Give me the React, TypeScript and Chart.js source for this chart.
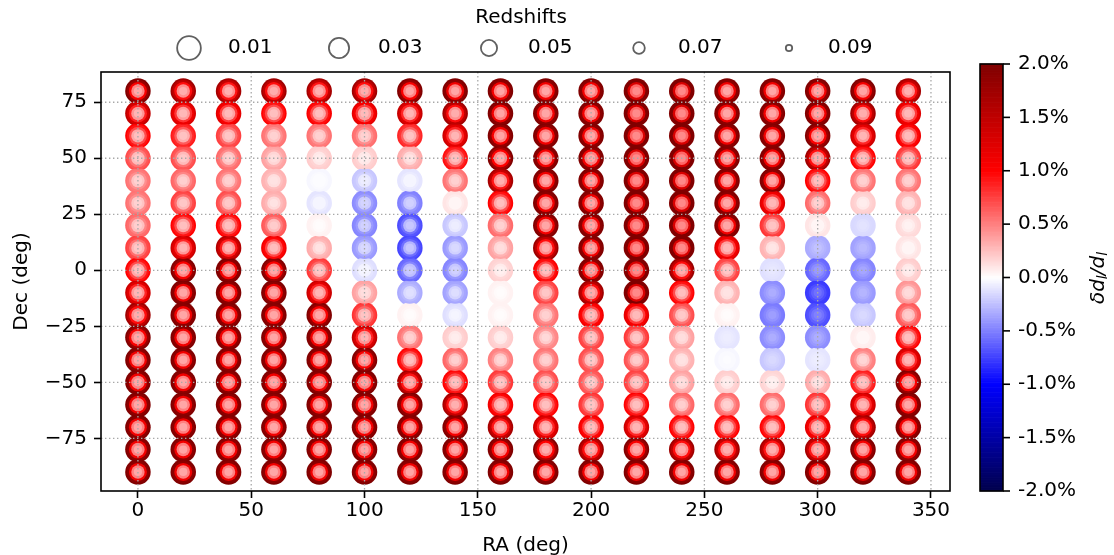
import React, { useEffect, useRef } from "react";
import { Chart, registerables } from "chart.js";

Chart.register(...registerables);

// ---------------- data ----------------
const RA = [0, 20, 40, 60, 80, 100, 120, 140, 160, 180, 200, 220, 240, 260, 280, 300, 320, 340];
const DEC = [80, 70, 60, 50, 40, 30, 20, 10, 0, -10, -20, -30, -40, -50, -60, -70, -80, -90];
const REDSHIFT_LABELS = ["0.01", "0.03", "0.05", "0.07", "0.09"];
const X_TICKS = [0, 50, 100, 150, 200, 250, 300, 350];
const Y_TICKS = [-75, -50, -25, 0, 25, 50, 75];
const CBAR_TICKS = [-2, -1.5, -1, -0.5, 0, 0.5, 1, 1.5, 2];

// delta d_L / d_L in percent; rows follow DEC, columns follow RA
const DL_Z001 = [
  [2.2, 1.75, 1.7, 1.75, 1.7, 1.75, 2.2, 2.4, 2.4, 2.4, 2.4, 2.6, 2.6, 2.4, 2.4, 2.4, 2.3, 1.7],
  [1.5, 1.3, 1.2, 1.0, 1.05, 1.2, 1.45, 1.75, 2.4, 2.4, 2.4, 2.6, 2.6, 2.4, 2.4, 2.4, 1.75, 1.25],
  [1.0, 0.9, 0.75, 0.55, 0.55, 0.57, 0.85, 1.4, 2.3, 2.4, 2.4, 2.6, 2.6, 2.4, 2.4, 2.2, 1.4, 1.1],
  [0.7, 0.7, 0.58, 0.37, 0.2, 0.2, 0.33, 0.95, 2.1, 2.4, 2.4, 2.6, 2.6, 2.4, 2.4, 1.75, 1.0, 0.8],
  [0.55, 0.6, 0.55, 0.3, -0.03, -0.22, -0.1, 0.55, 1.7, 2.4, 2.4, 2.6, 2.6, 2.4, 2.4, 1.0, 0.55, 0.55],
  [0.55, 0.75, 0.7, 0.33, -0.1, -0.45, -0.5, 0.1, 1.0, 2.4, 2.4, 2.6, 2.6, 2.4, 1.25, 0.58, 0.2, 0.3],
  [0.6, 1.0, 1.0, 0.65, 0.05, -0.48, -0.7, -0.22, 0.58, 2.3, 2.4, 2.6, 2.6, 2.4, 0.8, 0.1, -0.15, 0.15],
  [0.75, 1.4, 1.6, 1.1, 0.33, -0.4, -0.73, -0.4, 0.37, 1.8, 2.4, 2.6, 2.6, 1.25, 0.3, -0.33, -0.37, 0.1],
  [1.0, 2.2, 2.4, 2.2, 0.78, -0.13, -0.6, -0.48, 0.18, 1.05, 2.4, 2.6, 1.8, 0.75, -0.12, -0.6, -0.48, 0.2],
  [1.4, 2.4, 2.4, 2.4, 1.4, 0.37, -0.33, -0.37, 0.05, 0.75, 1.75, 2.6, 1.0, 0.3, -0.45, -0.77, -0.4, 0.42],
  [1.75, 2.4, 2.4, 2.4, 2.2, 0.8, 0.05, -0.13, 0.05, 0.55, 1.1, 1.2, 0.7, 0.05, -0.52, -0.7, -0.22, 0.65],
  [2.2, 2.4, 2.4, 2.4, 2.4, 1.5, 0.55, 0.2, 0.2, 0.47, 0.75, 0.78, 0.37, -0.1, -0.45, -0.45, 0.07, 1.0],
  [2.4, 2.4, 2.4, 2.4, 2.4, 2.2, 1.0, 0.6, 0.5, 0.55, 0.7, 0.68, 0.3, -0.03, -0.22, -0.1, 0.5, 1.4],
  [2.4, 2.4, 2.4, 2.4, 2.4, 2.4, 1.7, 1.0, 0.78, 0.7, 0.68, 0.75, 0.37, 0.2, 0.17, 0.33, 0.9, 2.2],
  [2.4, 2.4, 2.4, 2.4, 2.4, 2.4, 2.3, 1.7, 1.1, 1.0, 0.8, 1.0, 0.6, 0.58, 0.58, 0.8, 1.4, 2.4],
  [2.4, 2.4, 2.4, 2.4, 2.4, 2.4, 2.4, 2.3, 1.7, 1.4, 1.1, 1.4, 1.0, 1.0, 1.0, 1.2, 1.75, 2.4],
  [2.4, 2.4, 2.4, 2.4, 2.4, 2.4, 2.4, 2.4, 2.3, 2.0, 1.75, 2.2, 1.75, 1.75, 1.7, 1.7, 2.3, 2.4],
  [2.4, 2.4, 2.4, 2.4, 2.4, 2.4, 2.4, 2.4, 2.4, 2.4, 2.4, 2.4, 2.4, 2.4, 2.4, 2.4, 2.4, 2.4],
];

const DL_Z003 = [
  [1.8, 1.5, 1.45, 1.5, 1.45, 1.5, 1.8, 1.9, 1.9, 1.9, 1.9, 2.1, 2.1, 1.9, 1.9, 1.9, 1.85, 1.45],
  [1.3, 1.14, 1.06, 0.92, 0.95, 1.06, 1.26, 1.5, 1.9, 1.9, 1.9, 2.1, 2.1, 1.9, 1.9, 1.9, 1.5, 1.1],
  [0.92, 0.84, 0.71, 0.52, 0.52, 0.54, 0.8, 1.22, 1.85, 1.9, 1.9, 2.1, 2.1, 1.9, 1.9, 1.8, 1.22, 0.98],
  [0.66, 0.66, 0.55, 0.35, 0.19, 0.19, 0.31, 0.88, 1.7, 1.9, 1.9, 2.1, 2.1, 1.9, 1.9, 1.5, 0.92, 0.75],
  [0.52, 0.57, 0.52, 0.29, -0.03, -0.21, -0.1, 0.52, 1.45, 1.9, 1.9, 2.1, 2.1, 1.9, 1.9, 0.92, 0.52, 0.52],
  [0.52, 0.71, 0.66, 0.31, -0.1, -0.43, -0.48, 0.1, 0.92, 1.9, 1.9, 2.1, 2.1, 1.9, 1.1, 0.55, 0.19, 0.29],
  [0.57, 0.92, 0.92, 0.62, 0.05, -0.46, -0.66, -0.21, 0.55, 1.85, 1.9, 2.1, 2.1, 1.9, 0.75, 0.1, -0.15, 0.14],
  [0.71, 1.22, 1.38, 0.98, 0.31, -0.38, -0.68, -0.38, 0.35, 1.5, 1.9, 2.1, 2.1, 1.1, 0.29, -0.32, -0.36, 0.1],
  [0.92, 1.8, 1.9, 1.8, 0.73, -0.12, -0.57, -0.46, 0.17, 0.95, 1.9, 2.1, 1.5, 0.71, -0.12, -0.58, -0.47, 0.19],
  [1.22, 1.9, 1.9, 1.9, 1.22, 0.35, -0.31, -0.35, 0.05, 0.71, 1.5, 2.1, 0.92, 0.29, -0.44, -0.76, -0.39, 0.4],
  [1.5, 1.9, 1.9, 1.9, 1.8, 0.75, 0.05, -0.12, 0.05, 0.52, 0.98, 1.06, 0.66, 0.05, -0.51, -0.68, -0.21, 0.62],
  [1.8, 1.9, 1.9, 1.9, 1.9, 1.3, 0.52, 0.19, 0.19, 0.45, 0.71, 0.73, 0.35, -0.1, -0.44, -0.44, 0.07, 0.92],
  [1.9, 1.9, 1.9, 1.9, 1.9, 1.8, 0.92, 0.57, 0.48, 0.52, 0.66, 0.64, 0.29, -0.03, -0.21, -0.1, 0.48, 1.22],
  [1.9, 1.9, 1.9, 1.9, 1.9, 1.9, 1.45, 0.92, 0.73, 0.66, 0.64, 0.71, 0.35, 0.19, 0.16, 0.31, 0.84, 1.8],
  [1.9, 1.9, 1.9, 1.9, 1.9, 1.9, 1.85, 1.45, 0.98, 0.92, 0.75, 0.92, 0.57, 0.55, 0.55, 0.75, 1.22, 1.9],
  [1.9, 1.9, 1.9, 1.9, 1.9, 1.9, 1.9, 1.85, 1.45, 1.22, 0.98, 1.22, 0.92, 0.92, 0.92, 1.06, 1.5, 1.9],
  [1.9, 1.9, 1.9, 1.9, 1.9, 1.9, 1.9, 1.9, 1.85, 1.65, 1.5, 1.8, 1.5, 1.5, 1.45, 1.45, 1.85, 1.9],
  [1.9, 1.9, 1.9, 1.9, 1.9, 1.9, 1.9, 1.9, 1.9, 1.9, 1.9, 1.9, 1.9, 1.9, 1.9, 1.9, 1.9, 1.9],
];

const DL_Z005 = [
  [1.05, 0.95, 0.92, 0.95, 0.92, 0.95, 1.05, 1.1, 1.1, 1.1, 1.1, 1.3, 1.3, 1.1, 1.1, 1.1, 1.08, 0.92],
  [0.87, 0.8, 0.76, 0.7, 0.71, 0.76, 0.86, 0.95, 1.1, 1.1, 1.1, 1.3, 1.3, 1.1, 1.1, 1.1, 0.95, 0.78],
  [0.7, 0.64, 0.57, 0.44, 0.44, 0.45, 0.62, 0.85, 1.08, 1.1, 1.1, 1.3, 1.3, 1.1, 1.1, 1.05, 0.85, 0.72],
  [0.54, 0.54, 0.46, 0.3, 0.17, 0.17, 0.27, 0.67, 1.0, 1.1, 1.1, 1.3, 1.3, 1.1, 1.1, 0.95, 0.7, 0.6],
  [0.44, 0.48, 0.44, 0.25, -0.02, -0.18, -0.08, 0.44, 0.92, 1.1, 1.1, 1.3, 1.3, 1.1, 1.1, 0.7, 0.44, 0.44],
  [0.44, 0.57, 0.54, 0.27, -0.08, -0.37, -0.41, 0.08, 0.7, 1.1, 1.1, 1.3, 1.3, 1.1, 0.78, 0.46, 0.17, 0.25],
  [0.48, 0.7, 0.7, 0.51, 0.04, -0.4, -0.55, -0.18, 0.46, 1.08, 1.1, 1.3, 1.3, 1.1, 0.6, 0.08, -0.14, 0.12],
  [0.57, 0.85, 0.9, 0.72, 0.27, -0.33, -0.56, -0.33, 0.3, 0.95, 1.1, 1.3, 1.3, 0.78, 0.25, -0.3, -0.33, 0.08],
  [0.7, 1.05, 1.1, 1.05, 0.59, -0.1, -0.48, -0.4, 0.15, 0.71, 1.1, 1.3, 0.95, 0.57, -0.11, -0.52, -0.43, 0.17],
  [0.85, 1.1, 1.1, 1.1, 0.85, 0.3, -0.27, -0.3, 0.04, 0.57, 0.95, 1.3, 0.7, 0.25, -0.4, -0.7, -0.36, 0.34],
  [0.95, 1.1, 1.1, 1.1, 1.05, 0.6, 0.04, -0.1, 0.04, 0.44, 0.72, 0.76, 0.54, 0.04, -0.47, -0.62, -0.19, 0.51],
  [1.05, 1.1, 1.1, 1.1, 1.1, 0.87, 0.44, 0.17, 0.17, 0.38, 0.57, 0.59, 0.3, -0.09, -0.4, -0.4, 0.06, 0.7],
  [1.1, 1.1, 1.1, 1.1, 1.1, 1.05, 0.7, 0.48, 0.4, 0.44, 0.54, 0.53, 0.25, -0.02, -0.19, -0.09, 0.4, 0.85],
  [1.1, 1.1, 1.1, 1.1, 1.1, 1.1, 0.92, 0.7, 0.59, 0.54, 0.53, 0.57, 0.3, 0.17, 0.14, 0.27, 0.64, 1.05],
  [1.1, 1.1, 1.1, 1.1, 1.1, 1.1, 1.08, 0.92, 0.72, 0.7, 0.6, 0.7, 0.48, 0.46, 0.46, 0.6, 0.85, 1.1],
  [1.1, 1.1, 1.1, 1.1, 1.1, 1.1, 1.1, 1.08, 0.92, 0.85, 0.72, 0.85, 0.7, 0.7, 0.7, 0.76, 0.95, 1.1],
  [1.1, 1.1, 1.1, 1.1, 1.1, 1.1, 1.1, 1.1, 1.08, 1.0, 0.95, 1.05, 0.95, 0.95, 0.92, 0.92, 1.08, 1.1],
  [1.1, 1.1, 1.1, 1.1, 1.1, 1.1, 1.1, 1.1, 1.1, 1.1, 1.1, 1.1, 1.1, 1.1, 1.1, 1.1, 1.1, 1.1],
];

const DL_Z007 = [
  [0.48, 0.44, 0.43, 0.44, 0.43, 0.44, 0.48, 0.5, 0.5, 0.5, 0.5, 0.6, 0.6, 0.5, 0.5, 0.5, 0.5, 0.43],
  [0.41, 0.38, 0.36, 0.34, 0.34, 0.36, 0.4, 0.44, 0.5, 0.5, 0.5, 0.6, 0.6, 0.5, 0.5, 0.5, 0.44, 0.37],
  [0.34, 0.31, 0.29, 0.23, 0.23, 0.23, 0.31, 0.4, 0.5, 0.5, 0.5, 0.6, 0.6, 0.5, 0.5, 0.48, 0.4, 0.35],
  [0.27, 0.27, 0.24, 0.16, 0.09, 0.09, 0.15, 0.33, 0.47, 0.5, 0.5, 0.6, 0.6, 0.5, 0.5, 0.44, 0.34, 0.3],
  [0.23, 0.25, 0.23, 0.13, -0.01, -0.09, -0.04, 0.23, 0.43, 0.5, 0.5, 0.6, 0.6, 0.5, 0.5, 0.34, 0.23, 0.23],
  [0.23, 0.29, 0.27, 0.15, -0.04, -0.2, -0.22, 0.04, 0.34, 0.5, 0.5, 0.6, 0.6, 0.5, 0.37, 0.24, 0.09, 0.13],
  [0.25, 0.34, 0.34, 0.26, 0.02, -0.22, -0.28, -0.09, 0.24, 0.5, 0.5, 0.6, 0.6, 0.5, 0.3, 0.04, -0.12, 0.07],
  [0.29, 0.4, 0.42, 0.35, 0.15, -0.18, -0.29, -0.18, 0.16, 0.44, 0.5, 0.6, 0.6, 0.37, 0.13, -0.27, -0.3, 0.04],
  [0.34, 0.48, 0.5, 0.48, 0.29, -0.05, -0.25, -0.22, 0.08, 0.34, 0.5, 0.6, 0.44, 0.29, -0.1, -0.45, -0.39, 0.09],
  [0.4, 0.5, 0.5, 0.5, 0.4, 0.16, -0.15, -0.17, 0.02, 0.29, 0.44, 0.6, 0.34, 0.13, -0.36, -0.62, -0.32, 0.18],
  [0.44, 0.5, 0.5, 0.5, 0.48, 0.3, 0.02, -0.05, 0.02, 0.23, 0.35, 0.36, 0.27, 0.02, -0.42, -0.55, -0.17, 0.26],
  [0.48, 0.5, 0.5, 0.5, 0.5, 0.41, 0.23, 0.09, 0.09, 0.2, 0.29, 0.29, 0.16, -0.08, -0.36, -0.36, 0.03, 0.34],
  [0.5, 0.5, 0.5, 0.5, 0.5, 0.48, 0.34, 0.25, 0.21, 0.23, 0.27, 0.27, 0.13, -0.02, -0.17, -0.08, 0.21, 0.4],
  [0.5, 0.5, 0.5, 0.5, 0.5, 0.5, 0.43, 0.34, 0.29, 0.27, 0.27, 0.29, 0.16, 0.09, 0.07, 0.15, 0.31, 0.48],
  [0.5, 0.5, 0.5, 0.5, 0.5, 0.5, 0.5, 0.43, 0.35, 0.34, 0.3, 0.34, 0.25, 0.24, 0.24, 0.3, 0.4, 0.5],
  [0.5, 0.5, 0.5, 0.5, 0.5, 0.5, 0.5, 0.5, 0.43, 0.4, 0.35, 0.4, 0.34, 0.34, 0.34, 0.36, 0.44, 0.5],
  [0.5, 0.5, 0.5, 0.5, 0.5, 0.5, 0.5, 0.5, 0.5, 0.46, 0.44, 0.48, 0.44, 0.44, 0.43, 0.43, 0.5, 0.5],
  [0.5, 0.5, 0.5, 0.5, 0.5, 0.5, 0.5, 0.5, 0.5, 0.5, 0.5, 0.5, 0.5, 0.5, 0.5, 0.5, 0.5, 0.5],
];

const DL_Z009 = [
  [0.34, 0.32, 0.31, 0.32, 0.31, 0.32, 0.34, 0.35, 0.35, 0.35, 0.35, 0.46, 0.46, 0.35, 0.35, 0.35, 0.35, 0.31],
  [0.29, 0.28, 0.27, 0.25, 0.25, 0.27, 0.29, 0.32, 0.35, 0.35, 0.35, 0.46, 0.46, 0.35, 0.35, 0.35, 0.32, 0.28],
  [0.25, 0.24, 0.22, 0.18, 0.18, 0.18, 0.23, 0.29, 0.35, 0.35, 0.35, 0.46, 0.46, 0.35, 0.35, 0.34, 0.29, 0.26],
  [0.21, 0.21, 0.18, 0.13, 0.07, 0.07, 0.11, 0.25, 0.33, 0.35, 0.35, 0.46, 0.46, 0.35, 0.35, 0.32, 0.25, 0.23],
  [0.18, 0.19, 0.18, 0.11, -0.01, -0.07, -0.04, 0.18, 0.31, 0.35, 0.35, 0.46, 0.46, 0.35, 0.35, 0.25, 0.18, 0.18],
  [0.18, 0.22, 0.21, 0.11, -0.04, -0.17, -0.18, 0.04, 0.25, 0.35, 0.35, 0.46, 0.46, 0.35, 0.28, 0.18, 0.07, 0.11],
  [0.19, 0.25, 0.25, 0.2, 0.01, -0.18, -0.22, -0.07, 0.18, 0.35, 0.35, 0.46, 0.46, 0.35, 0.23, 0.04, -0.11, 0.05],
  [0.22, 0.29, 0.3, 0.26, 0.11, -0.15, -0.22, -0.15, 0.13, 0.32, 0.35, 0.46, 0.46, 0.28, 0.1, -0.24, -0.27, 0.04],
  [0.25, 0.34, 0.35, 0.34, 0.22, -0.04, -0.21, -0.18, 0.06, 0.25, 0.35, 0.46, 0.32, 0.22, -0.09, -0.4, -0.35, 0.07],
  [0.29, 0.35, 0.35, 0.35, 0.29, 0.13, -0.12, -0.13, 0.01, 0.22, 0.32, 0.46, 0.25, 0.11, -0.32, -0.56, -0.29, 0.14],
  [0.32, 0.35, 0.35, 0.35, 0.34, 0.23, 0.01, -0.04, 0.01, 0.18, 0.26, 0.27, 0.21, 0.01, -0.38, -0.5, -0.15, 0.2],
  [0.34, 0.35, 0.35, 0.35, 0.35, 0.29, 0.18, 0.07, 0.07, 0.15, 0.22, 0.22, 0.13, -0.07, -0.32, -0.32, 0.03, 0.25],
  [0.35, 0.35, 0.35, 0.35, 0.35, 0.34, 0.25, 0.19, 0.16, 0.18, 0.21, 0.2, 0.11, -0.01, -0.15, -0.07, 0.16, 0.29],
  [0.35, 0.35, 0.35, 0.35, 0.35, 0.35, 0.31, 0.25, 0.22, 0.21, 0.2, 0.22, 0.13, 0.07, 0.06, 0.11, 0.24, 0.34],
  [0.35, 0.35, 0.35, 0.35, 0.35, 0.35, 0.35, 0.31, 0.26, 0.25, 0.23, 0.25, 0.19, 0.18, 0.18, 0.23, 0.29, 0.35],
  [0.35, 0.35, 0.35, 0.35, 0.35, 0.35, 0.35, 0.35, 0.31, 0.29, 0.26, 0.29, 0.25, 0.25, 0.25, 0.27, 0.32, 0.35],
  [0.35, 0.35, 0.35, 0.35, 0.35, 0.35, 0.35, 0.35, 0.35, 0.32, 0.32, 0.34, 0.32, 0.32, 0.31, 0.31, 0.35, 0.35],
  [0.35, 0.35, 0.35, 0.35, 0.35, 0.35, 0.35, 0.35, 0.35, 0.35, 0.35, 0.35, 0.35, 0.35, 0.35, 0.35, 0.35, 0.35],
];

const GRIDS = [DL_Z001, DL_Z003, DL_Z005, DL_Z007, DL_Z009];

// ---------------- style ----------------
const FONT = "'DejaVu Sans', 'Liberation Sans', sans-serif";
const FS = 20;
const W = 1114;
const H = 555;
const MARKER_RADII = [12.75, 11, 9, 6.7, 4.1];
const VMIN = -2;
const VMAX = 2;

const SEISMIC = [
  [0, 0, 0.3],
  [0, 0, 1],
  [1, 1, 1],
  [1, 0, 0],
  [0.5, 0, 0],
];

function seismic(v: number): string {
  let t = (v - VMIN) / (VMAX - VMIN);
  t = Math.max(0, Math.min(1, t));
  const p = t * 4;
  const i = Math.min(3, Math.floor(p));
  const f = p - i;
  const a = SEISMIC[i];
  const b = SEISMIC[i + 1];
  const c = a.map((x, k) => Math.round((x + (b[k] - x) * f) * 255));
  return `rgb(${c[0]},${c[1]},${c[2]})`;
}

const fmtMinus = (v: number) => (v < 0 ? "\u2212" + Math.abs(v) : String(v));

const mplPlugin = {
  id: "mplDecor",
  afterDatasetsDraw(chart: any) {
    const { ctx, chartArea: a, scales } = chart;
    const x = scales.x;
    const y = scales.y;
    ctx.save();
    ctx.beginPath();
    ctx.rect(a.left, a.top, a.right - a.left, a.bottom - a.top);
    ctx.clip();
    ctx.strokeStyle = "#a8a8a8";
    ctx.lineWidth = 1.3;
    ctx.setLineDash([1.4, 2.6]);
    X_TICKS.forEach((v) => {
      const px = x.getPixelForValue(v);
      ctx.beginPath();
      ctx.moveTo(px, a.top);
      ctx.lineTo(px, a.bottom);
      ctx.stroke();
    });
    Y_TICKS.forEach((v) => {
      const py = y.getPixelForValue(v);
      ctx.beginPath();
      ctx.moveTo(a.left, py);
      ctx.lineTo(a.right, py);
      ctx.stroke();
    });
    ctx.restore();
    ctx.save();
    ctx.strokeStyle = "#000";
    ctx.lineWidth = 1.6;
    ctx.strokeRect(a.left, a.top, a.right - a.left, a.bottom - a.top);
    ctx.restore();
  },
  afterDraw(chart: any) {
    const { ctx } = chart;
    // ---- legend ----
    ctx.save();
    ctx.fillStyle = "#000";
    ctx.font = `${FS}px ${FONT}`;
    ctx.textAlign = "center";
    ctx.textBaseline = "middle";
    ctx.fillText("Redshifts", 521, 18);
    REDSHIFT_LABELS.forEach((lab, k) => {
      const cx = 189 + 150 * k;
      const cy = 48;
      ctx.beginPath();
      ctx.arc(cx, cy, MARKER_RADII[k] - 0.9, 0, Math.PI * 2);
      ctx.strokeStyle = "#606060";
      ctx.lineWidth = 1.8;
      ctx.stroke();
      ctx.fillStyle = "#000";
      ctx.textAlign = "left";
      ctx.fillText(lab, 228 + 150 * k, cy);
    });
    ctx.restore();

    // ---- colorbar ----
    const x0 = 980;
    const x1 = 1003;
    const y0 = 64;
    const y1 = 491;
    const n = 256;
    ctx.save();
    for (let i = 0; i < n; i++) {
      const v = VMIN + ((i + 0.5) / n) * (VMAX - VMIN);
      const ya = y1 - ((i + 1) / n) * (y1 - y0);
      const yb = y1 - (i / n) * (y1 - y0);
      ctx.fillStyle = seismic(v);
      ctx.fillRect(x0, ya - 0.3, x1 - x0, yb - ya + 0.6);
    }
    ctx.strokeStyle = "#000";
    ctx.lineWidth = 1.6;
    ctx.strokeRect(x0, y0, x1 - x0, y1 - y0);
    ctx.font = `${FS}px ${FONT}`;
    ctx.fillStyle = "#000";
    ctx.textAlign = "left";
    ctx.textBaseline = "middle";
    CBAR_TICKS.forEach((v) => {
      const py = y1 - ((v - VMIN) / (VMAX - VMIN)) * (y1 - y0);
      ctx.beginPath();
      ctx.moveTo(x1, py);
      ctx.lineTo(x1 + 7, py);
      ctx.lineWidth = 1.6;
      ctx.stroke();
      ctx.fillText(v.toFixed(1) + "%", x1 + 15, py);
    });
    // colorbar label  δd_l/d_l
    ctx.translate(1099, 278);
    ctx.rotate(-Math.PI / 2);
    const big = `italic ${FS}px ${FONT}`;
    const small = `italic ${Math.round(FS * 0.7)}px ${FONT}`;
    const parts: [string, string, number][] = [
      ["\u03b4d", big, 0],
      ["l", small, 4],
      ["/d", big, 0],
      ["l", small, 4],
    ];
    let total = 0;
    parts.forEach(([t, f]) => {
      ctx.font = f;
      total += ctx.measureText(t).width;
    });
    let cx = -total / 2;
    parts.forEach(([t, f, dy]) => {
      ctx.font = f;
      ctx.fillText(t, cx, dy);
      cx += ctx.measureText(t).width;
    });
    ctx.restore();
  },
};

export default function App() {
  const ref = useRef<HTMLCanvasElement | null>(null);

  useEffect(() => {
    if (!ref.current) return;
    const datasets = GRIDS.map((grid, k) => {
      const pts: { x: number; y: number }[] = [];
      const colors: string[] = [];
      DEC.forEach((dec, i) => {
        RA.forEach((ra, j) => {
          pts.push({ x: ra, y: dec });
          colors.push(seismic(grid[i][j]));
        });
      });
      return {
        label: REDSHIFT_LABELS[k],
        data: pts,
        pointRadius: MARKER_RADII[k],
        pointHoverRadius: MARKER_RADII[k],
        pointBackgroundColor: colors,
        pointBorderWidth: 0,
        pointBorderColor: "rgba(0,0,0,0)",
        order: GRIDS.length - k,
      };
    });

    const tickFont = { family: FONT, size: FS };

    const chart = new Chart(ref.current, {
      type: "scatter",
      data: { datasets },
      options: {
        responsive: false,
        animation: false,
        devicePixelRatio: 1,
        events: [],
        layout: { padding: { left: 0, right: 164, top: 72, bottom: 0 } },
        plugins: { legend: { display: false }, tooltip: { enabled: false } },
        scales: {
          x: {
            type: "linear",
            min: -16.3,
            max: 358.4,
            afterBuildTicks: (s: any) => {
              s.ticks = X_TICKS.map((v) => ({ value: v }));
            },
            afterFit: (s: any) => {
              s.height = 64;
            },
            border: { display: false },
            grid: { drawOnChartArea: false, drawTicks: true, tickLength: 7, tickWidth: 1.6, tickColor: "#000" },
            ticks: {
              color: "#000",
              font: tickFont,
              padding: 1,
              maxRotation: 0,
              autoSkip: false,
              callback: (v: any) => fmtMinus(Number(v)),
            },
            title: {
              display: true,
              text: "RA (deg)",
              color: "#000",
              font: tickFont,
              padding: { top: 0, bottom: -3 },
            },
          },
          y: {
            type: "linear",
            min: -98.5,
            max: 88.5,
            afterBuildTicks: (s: any) => {
              s.ticks = Y_TICKS.map((v) => ({ value: v }));
            },
            afterFit: (s: any) => {
              s.width = 101;
            },
            border: { display: false },
            grid: { drawOnChartArea: false, drawTicks: true, tickLength: 7, tickWidth: 1.6, tickColor: "#000" },
            ticks: {
              color: "#000",
              font: tickFont,
              padding: 7,
              autoSkip: false,
              callback: (v: any) => fmtMinus(Number(v)),
            },
            title: {
              display: true,
              text: "Dec (deg)",
              color: "#000",
              font: tickFont,
              padding: { top: 10, bottom: 0 },
            },
          },
        },
      },
      plugins: [mplPlugin],
    } as any);

    return () => chart.destroy();
  }, []);

  return (
    <div style={{ position: "fixed", left: 0, top: 0, width: W, height: H, background: "#fff" }}>
      <canvas ref={ref} width={W} height={H} style={{ display: "block", width: W, height: H }} />
    </div>
  );
}
